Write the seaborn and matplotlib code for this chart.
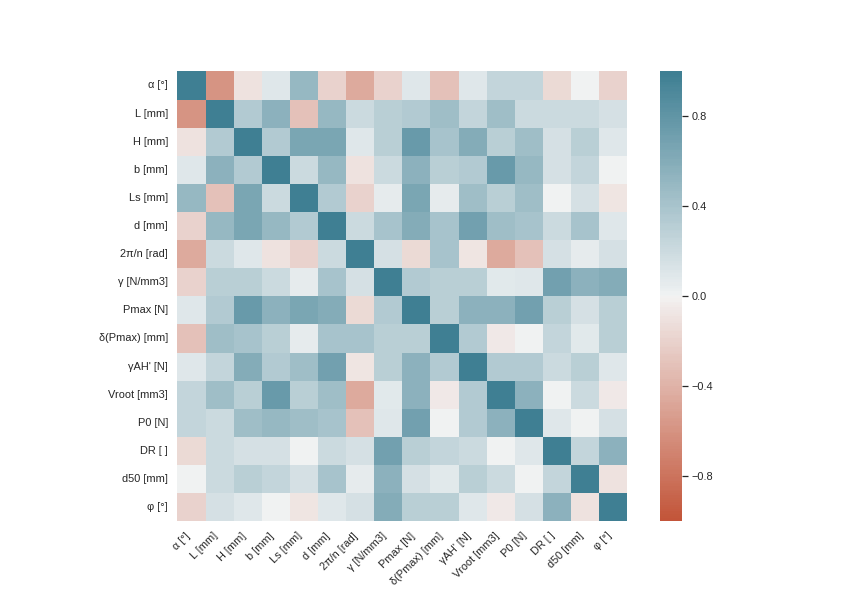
import matplotlib
matplotlib.use("Agg")
import matplotlib.pyplot as plt
import seaborn as sns
import numpy as np
import pandas as pd

# variable names
labels = ['α [°]', 'L [mm]', 'H [mm]', 'b [mm]', 'Ls [mm]', 'd [mm]', '2π/n [rad]',
          'γ [N/mm3]', 'Pmax [N]', 'δ(Pmax) [mm]', "γAH' [N]", 'Vroot [mm3]',
          'P0 [N]', 'DR [ ]', 'd50 [mm]', 'φ [°]']

# correlation matrix
corr_rows = [
    [1.00, -0.60, -0.10, 0.10, 0.50, -0.20, -0.45, -0.20, 0.10, -0.30, 0.10, 0.25, 0.25, -0.15, 0.00, -0.20],
    [-0.60, 1.00, 0.35, 0.55, -0.30, 0.50, 0.20, 0.30, 0.35, 0.45, 0.25, 0.45, 0.20, 0.20, 0.20, 0.15],
    [-0.10, 0.35, 1.00, 0.35, 0.65, 0.65, 0.10, 0.30, 0.75, 0.40, 0.60, 0.30, 0.45, 0.15, 0.30, 0.10],
    [0.10, 0.55, 0.35, 1.00, 0.20, 0.50, -0.10, 0.20, 0.55, 0.30, 0.35, 0.75, 0.50, 0.15, 0.25, 0.00],
    [0.50, -0.30, 0.65, 0.20, 1.00, 0.35, -0.20, 0.05, 0.65, 0.05, 0.45, 0.30, 0.45, 0.00, 0.15, -0.08],
    [-0.20, 0.50, 0.65, 0.50, 0.35, 1.00, 0.20, 0.40, 0.60, 0.40, 0.70, 0.45, 0.40, 0.20, 0.40, 0.10],
    [-0.45, 0.20, 0.10, -0.10, -0.20, 0.20, 1.00, 0.15, -0.15, 0.40, -0.08, -0.45, -0.30, 0.15, 0.05, 0.15],
    [-0.20, 0.30, 0.30, 0.20, 0.05, 0.40, 0.15, 1.00, 0.35, 0.30, 0.30, 0.08, 0.10, 0.70, 0.55, 0.60],
    [0.10, 0.35, 0.75, 0.55, 0.65, 0.60, -0.15, 0.35, 1.00, 0.30, 0.55, 0.55, 0.70, 0.30, 0.15, 0.30],
    [-0.30, 0.45, 0.40, 0.30, 0.05, 0.40, 0.40, 0.30, 0.30, 1.00, 0.35, -0.05, 0.00, 0.25, 0.08, 0.30],
    [0.10, 0.25, 0.60, 0.35, 0.45, 0.70, -0.08, 0.30, 0.55, 0.35, 1.00, 0.35, 0.35, 0.20, 0.30, 0.10],
    [0.25, 0.45, 0.30, 0.75, 0.30, 0.45, -0.45, 0.08, 0.55, -0.05, 0.35, 1.00, 0.55, 0.00, 0.20, -0.05],
    [0.25, 0.20, 0.45, 0.50, 0.45, 0.40, -0.30, 0.10, 0.70, 0.00, 0.35, 0.55, 1.00, 0.10, 0.00, 0.15],
    [-0.15, 0.20, 0.15, 0.15, 0.00, 0.20, 0.15, 0.70, 0.30, 0.25, 0.20, 0.00, 0.10, 1.00, 0.25, 0.55],
    [0.00, 0.20, 0.30, 0.25, 0.15, 0.40, 0.05, 0.55, 0.15, 0.08, 0.30, 0.20, 0.00, 0.25, 1.00, -0.10],
    [-0.20, 0.15, 0.10, 0.00, -0.08, 0.10, 0.15, 0.60, 0.30, 0.30, 0.10, -0.05, 0.15, 0.55, -0.10, 1.00],
]
cbar_ticks = [-0.8, -0.4, 0.0, 0.4, 0.8]

sns.set_theme(style="white")
plt.rcParams['font.family'] = ['Liberation Sans', 'DejaVu Sans']

corr = pd.DataFrame(np.array(corr_rows), index=labels, columns=labels)

fig, ax = plt.subplots(figsize=(842 / 72, 595 / 72), dpi=72)
fig.subplots_adjust(bottom=0.124)
cmap = sns.diverging_palette(20, 220, n=200)
sns.heatmap(corr, vmin=-1, vmax=1, center=0, cmap=cmap, square=True, ax=ax,
            cbar_kws={"ticks": cbar_ticks})
ax.set_xticklabels(ax.get_xticklabels(), rotation=45, horizontalalignment='right')

plt.savefig('out.png', dpi=72)
